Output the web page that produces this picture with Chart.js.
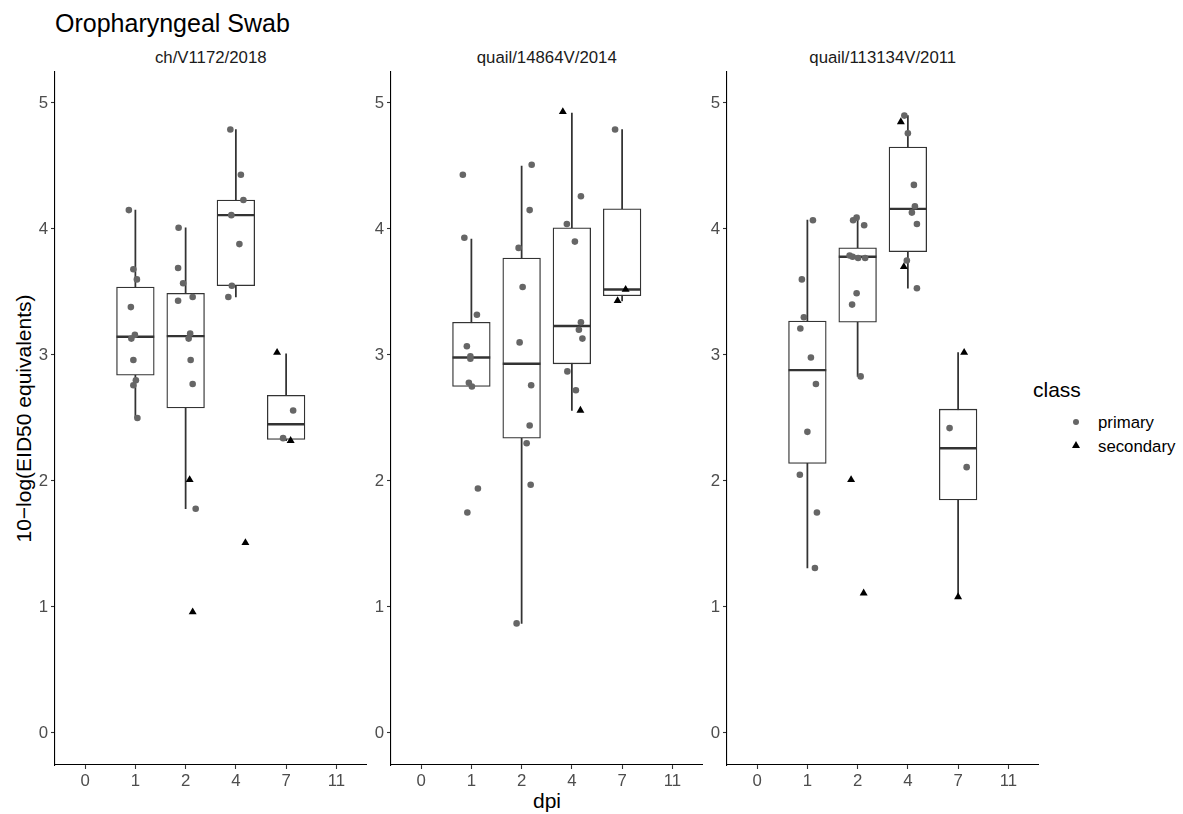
<!DOCTYPE html>
<html><head><meta charset="utf-8">
<script src="https://cdn.jsdelivr.net/npm/chart.js@4.4.1/dist/chart.umd.min.js"></script>
<style>
body{margin:0;background:#fff;width:1183px;height:814px;position:relative;overflow:hidden;font-family:'Liberation Sans',Arial,sans-serif;}
canvas{position:absolute;top:0;}
.t{position:absolute;line-height:1;white-space:nowrap;}
.c{text-align:center;}
</style></head><body>
<div class="t" style="left:55px;top:11px;font-size:25px;color:#000">Oropharyngeal Swab</div>
<div class="t c" id="s0" style="font-size:16.8px;color:#1A1A1A;top:50px;width:300px"></div>
<div class="t c" id="s1" style="font-size:16.8px;color:#1A1A1A;top:50px;width:300px"></div>
<div class="t c" id="s2" style="font-size:16.8px;color:#1A1A1A;top:50px;width:300px"></div>
<div class="t c" style="font-size:21px;color:#000;left:397px;width:300px;top:789.5px">dpi</div>
<div class="t c" style="font-size:21px;color:#000;left:-177px;width:400px;top:408px;transform:rotate(-90deg)">10−log(EID50 equivalents)</div>
<div class="t" style="font-size:21px;color:#000;left:1033px;top:379px">class</div>
<div style="position:absolute;left:1073px;top:419px;width:6px;height:6px;border-radius:50%;background:#666"></div>
<div class="t" style="font-size:16.8px;color:#000;left:1098px;top:415px">primary</div>
<div style="position:absolute;left:1071.5px;top:441px;width:0;height:0;border-left:4.5px solid transparent;border-right:4.5px solid transparent;border-bottom:7.5px solid #000"></div>
<div class="t" style="font-size:16.8px;color:#000;left:1098px;top:439px">secondary</div>
<canvas id="c0" width="372" height="814" style="left:0px"></canvas>
<canvas id="c1" width="372" height="814" style="left:336px"></canvas>
<canvas id="c2" width="372" height="814" style="left:672px"></canvas>
<script>
// ---- data ----
const dpiLabels = ['0', '1', '2', '4', '7', '11'];
const yTicks = [0, 1, 2, 3, 4, 5];
const strainNames = ['ch/V1172/2018', 'quail/14864V/2014', 'quail/113134V/2011'];

// points: [dpi, horizontal jitter (category units), value]
const chPrimary = [
  [1,-0.13,4.15],[1,-0.04,3.68],[1,0.03,3.60],[1,-0.09,3.38],[1,-0.01,3.16],
  [1,-0.08,3.13],[1,-0.04,2.96],[1,0.01,2.80],[1,-0.04,2.76],[1,0.04,2.50],
  [2,-0.14,4.01],[2,-0.15,3.69],[2,-0.05,3.57],[2,0.14,3.46],[2,-0.15,3.43],
  [2,0.09,3.17],[2,0.06,3.13],[2,0.10,2.96],[2,0.14,2.77],[2,0.20,1.78],
  [4,-0.11,4.79],[4,0.10,4.43],[4,0.15,4.23],[4,-0.09,4.11],[4,0.07,3.88],
  [4,-0.08,3.55],[4,-0.15,3.46],
  [7,0.14,2.56],[7,-0.06,2.34]
];
const chSecondary = [
  [2,0.08,2.01],[2,0.14,0.96],[4,0.19,1.51],[7,-0.18,3.02],[7,0.09,2.32]
];
// box: [dpi, lower whisker, q1, median, q3, upper whisker]
const chBox = [
  [1,2.50,2.84,3.145,3.54,4.15],
  [2,1.78,2.58,3.15,3.49,4.01],
  [4,3.46,3.55,4.11,4.23,4.79],
  [7,2.32,2.33,2.45,2.68,3.01]
];

const q14Primary = [
  [1,-0.17,4.43],[1,-0.14,3.93],[1,0.11,3.32],[1,-0.09,3.07],[1,-0.02,2.99],
  [1,-0.02,2.97],[1,-0.05,2.78],[1,0.01,2.75],[1,0.13,1.94],[1,-0.08,1.75],
  [2,0.20,4.51],[2,0.16,4.15],[2,-0.06,3.85],[2,0.02,3.54],[2,-0.04,3.10],
  [2,0.19,2.76],[2,0.16,2.44],[2,0.10,2.30],[2,0.18,1.97],[2,-0.10,0.87],
  [4,0.18,4.26],[4,-0.10,4.04],[4,0.06,3.90],[4,0.18,3.26],[4,0.14,3.20],
  [4,0.21,3.13],[4,-0.09,2.87],[4,0.08,2.72],
  [7,-0.14,4.79]
];
const q14Secondary = [
  [4,-0.18,4.93],[4,0.17,2.56],[7,0.07,3.52],[7,-0.09,3.43]
];
const q14Box = [
  [1,2.75,2.75,2.98,3.26,3.92],
  [2,0.87,2.34,2.93,3.77,4.50],
  [4,2.56,2.93,3.23,4.01,4.92],
  [7,3.43,3.47,3.52,4.16,4.79]
];

const q11Primary = [
  [1,0.11,4.07],[1,-0.11,3.60],[1,-0.07,3.30],[1,-0.14,3.21],[1,0.07,2.98],
  [1,0.17,2.77],[1,0.00,2.39],[1,-0.15,2.05],[1,0.19,1.75],[1,0.15,1.31],
  [2,-0.02,4.09],[2,-0.09,4.07],[2,0.13,4.03],[2,-0.16,3.79],[2,-0.10,3.78],
  [2,0.01,3.77],[2,0.15,3.77],[2,-0.02,3.49],[2,-0.11,3.40],[2,0.06,2.83],
  [4,-0.07,4.90],[4,0.00,4.76],[4,0.12,4.35],[4,0.14,4.18],[4,0.08,4.13],
  [4,0.18,4.04],[4,-0.02,3.75],[4,0.18,3.53],
  [7,-0.17,2.42],[7,0.17,2.11]
];
const q11Secondary = [
  [2,-0.13,2.01],[2,0.12,1.11],[4,-0.14,4.85],[4,-0.08,3.70],[7,0.12,3.02],[7,0.00,1.08]
];
const q11Box = [
  [1,1.31,2.14,2.88,3.27,4.07],
  [2,2.83,3.26,3.78,3.85,4.09],
  [4,3.53,3.82,4.16,4.65,4.90],
  [7,1.08,1.85,2.26,2.57,3.02]
];

// ---- layout / style constants ----
const PANEL_W = 311.5;
const CANVAS_W = 372;
const LEFT_AXIS = 55;
const TOP = 72;
const BOTTOM_AXIS = 49;
const X_MIN = -0.6, X_MAX = 5.6;
const BOX_W = PANEL_W / (X_MAX - X_MIN) * 0.75;
const DARK = '#333333';

Chart.defaults.font.family = "'Liberation Sans', Arial, sans-serif";

const idx = d => dpiLabels.indexOf(String(d));

function datasets(primary, secondary, box) {
  return [
    { type: 'bar', data: box.map(b => ({x: idx(b[0]), y: [b[1], b[5]]})),
      barThickness: 1.1, backgroundColor: DARK, borderWidth: 0, grouped: false, order: 4 },
    { type: 'bar', data: box.map(b => ({x: idx(b[0]), y: [b[2], b[4]]})),
      barThickness: BOX_W, backgroundColor: '#ffffff', borderColor: DARK, borderWidth: 1.3,
      borderSkipped: false, grouped: false, order: 3 },
    { type: 'scatter', data: box.map(b => ({x: idx(b[0]), y: b[3]})),
      pointStyle: 'line', pointRadius: BOX_W / 2, pointBorderColor: DARK, pointBorderWidth: 2.4,
      pointBackgroundColor: DARK, order: 2 },
    { type: 'scatter', data: primary.map(p => ({x: idx(p[0]) + p[1], y: p[2]})),
      pointStyle: 'circle', pointRadius: 3.3, pointBackgroundColor: '#666666', pointBorderWidth: 0,
      pointBorderColor: '#666666', order: 1 },
    { type: 'scatter', data: secondary.map(p => ({x: idx(p[0]) + p[1], y: p[2]})),
      pointStyle: 'triangle', pointRadius: 4.6, pointBackgroundColor: '#000000', pointBorderWidth: 0,
      pointBorderColor: '#000000', order: 0 }
  ];
}

function makeChart(id, primary, secondary, box) {
  return new Chart(document.getElementById(id), {
    type: 'scatter',
    data: { datasets: datasets(primary, secondary, box) },
    options: {
      responsive: false, animation: false, devicePixelRatio: 1, events: [],
      layout: { autoPadding: false, padding: { left: 0, top: TOP, right: CANVAS_W - LEFT_AXIS - PANEL_W, bottom: 0 } },
      plugins: { legend: { display: false }, tooltip: { enabled: false }, title: { display: false } },
      scales: {
        x: {
          type: 'linear', min: X_MIN, max: X_MAX, offset: false,
          afterBuildTicks: s => { s.ticks = dpiLabels.map((l, i) => ({value: i})); },
          afterFit: s => { s.height = BOTTOM_AXIS; s.paddingLeft = 0; s.paddingRight = 0; },
          ticks: { callback: v => dpiLabels[v], color: '#4D4D4D', font: { size: 16.8 }, padding: 2, maxRotation: 0, autoSkip: false },
          grid: { offset: false, drawOnChartArea: false, drawTicks: true, tickLength: 4, tickColor: DARK, tickWidth: 1.1 },
          border: { display: true, color: '#000000', width: 1.1 }
        },
        y: {
          type: 'linear', min: -0.254, max: 5.246,
          afterBuildTicks: s => { s.ticks = yTicks.map(v => ({value: v})); },
          afterFit: s => { s.width = LEFT_AXIS; s.paddingTop = 0; s.paddingBottom = 0; },
          ticks: { color: '#4D4D4D', font: { size: 16.8 }, padding: 3 },
          grid: { offset: false, drawOnChartArea: false, drawTicks: true, tickLength: 4, tickColor: DARK, tickWidth: 1.1 },
          border: { display: true, color: '#000000', width: 1.1 }
        }
      }
    }
  });
}

const panelLefts = [0, 336, 672];
strainNames.forEach((n, i) => {
  const el = document.getElementById('s' + i);
  el.textContent = n;
  el.style.left = (panelLefts[i] + LEFT_AXIS + PANEL_W / 2 - 150) + 'px';
});

makeChart('c0', chPrimary, chSecondary, chBox);
makeChart('c1', q14Primary, q14Secondary, q14Box);
makeChart('c2', q11Primary, q11Secondary, q11Box);
</script>
</body></html>
